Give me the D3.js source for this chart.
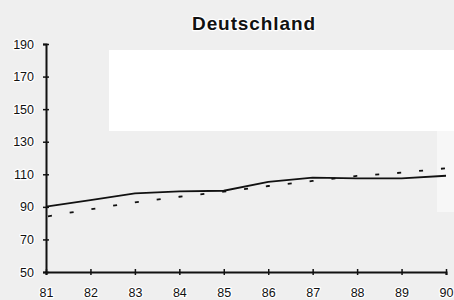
<!DOCTYPE html>
<html>
<head>
<meta charset="utf-8">
<script src="https://cdn.jsdelivr.net/npm/d3@7"></script>
<style>
  html, body { margin: 0; padding: 0; background: #efefef; }
  svg { display: block; }
  text { font-family: "Liberation Sans", Arial, sans-serif; fill: #111; }
  .halo { paint-order: stroke; stroke: #fff; stroke-width: 2.5px; stroke-linejoin: round; }
</style>
</head>
<body>
<svg id="chart" width="454" height="300"></svg>
<script>
const title = 'Deutschland';
const years = ['81', '82', '83', '84', '85', '86', '87', '88', '89', '90'];
const actual = [90.1, 94.2, 98.3, 99.5, 99.9, 105.4, 107.9, 107.5, 107.5, 109.1];
const trend = [84, 88.5, 92.8, 96.2, 99.3, 102.8, 105.9, 109, 111, 113.7];
const yTicks = [50, 70, 90, 110, 130, 150, 170, 190];

const width = 454;
const height = 300;
const margin = { top: 44, right: 8, bottom: 28, left: 46 };

const svg = d3.select('#chart');

// background + the blank boxes left in the original scan
svg.append('rect').attr('width', width).attr('height', height).attr('fill', '#efefef');
svg.append('rect').attr('x', 109).attr('y', 50).attr('width', 345).attr('height', 81).attr('fill', '#ffffff');
svg.append('rect').attr('x', 437).attr('y', 131).attr('width', 17).attr('height', 81).attr('fill', '#f7f7f7');

const x = d3.scalePoint()
  .domain(years)
  .range([margin.left, width - margin.right]);

const y = d3.scaleLinear()
  .domain([50, 190])
  .range([height - margin.bottom, margin.top]);

// 1. title
svg.append('text')
  .attr('class', 'halo')
  .attr('x', 254)
  .attr('y', 30)
  .attr('text-anchor', 'middle')
  .style('font-size', '19px')
  .style('font-weight', 'bold')
  .style('letter-spacing', '0.9px')
  .text(title);

// 2. axes
const yAxis = svg.append('g')
  .attr('transform', `translate(${margin.left},0)`)
  .call(d3.axisLeft(y).tickValues(yTicks).tickSize(3).tickPadding(9));

const xAxis = svg.append('g')
  .attr('transform', `translate(0,${y(50)})`)
  .call(d3.axisBottom(x).tickSize(3).tickPadding(11));

[yAxis, xAxis].forEach((g) => {
  g.select('.domain').attr('stroke', '#111').attr('stroke-width', 2);
  g.selectAll('.tick line').attr('stroke', '#111').attr('stroke-width', 1.5);
  g.selectAll('.tick text')
    .attr('class', 'halo')
    .style('font-size', '12.5px')
    .attr('fill', '#111');
});
// ticks cross the axis on both sides
yAxis.selectAll('.tick line').attr('x1', 3);
xAxis.selectAll('.tick line').attr('y1', -3);
xAxis.selectAll('.tick text').attr('dy', '0.9em');

// 3. lines
const line = (vals) => d3.line()
  .x((d, i) => x(years[i]))
  .y((d) => y(d))(vals);

svg.append('path')
  .attr('d', line(trend))
  .attr('fill', 'none')
  .attr('stroke', '#111')
  .attr('stroke-width', 1.8)
  .attr('stroke-dasharray', '4,18')
  .attr('stroke-dashoffset', -2);

svg.append('path')
  .attr('d', line(actual))
  .attr('fill', 'none')
  .attr('stroke', '#111')
  .attr('stroke-width', 1.8);
</script>
</body>
</html>
